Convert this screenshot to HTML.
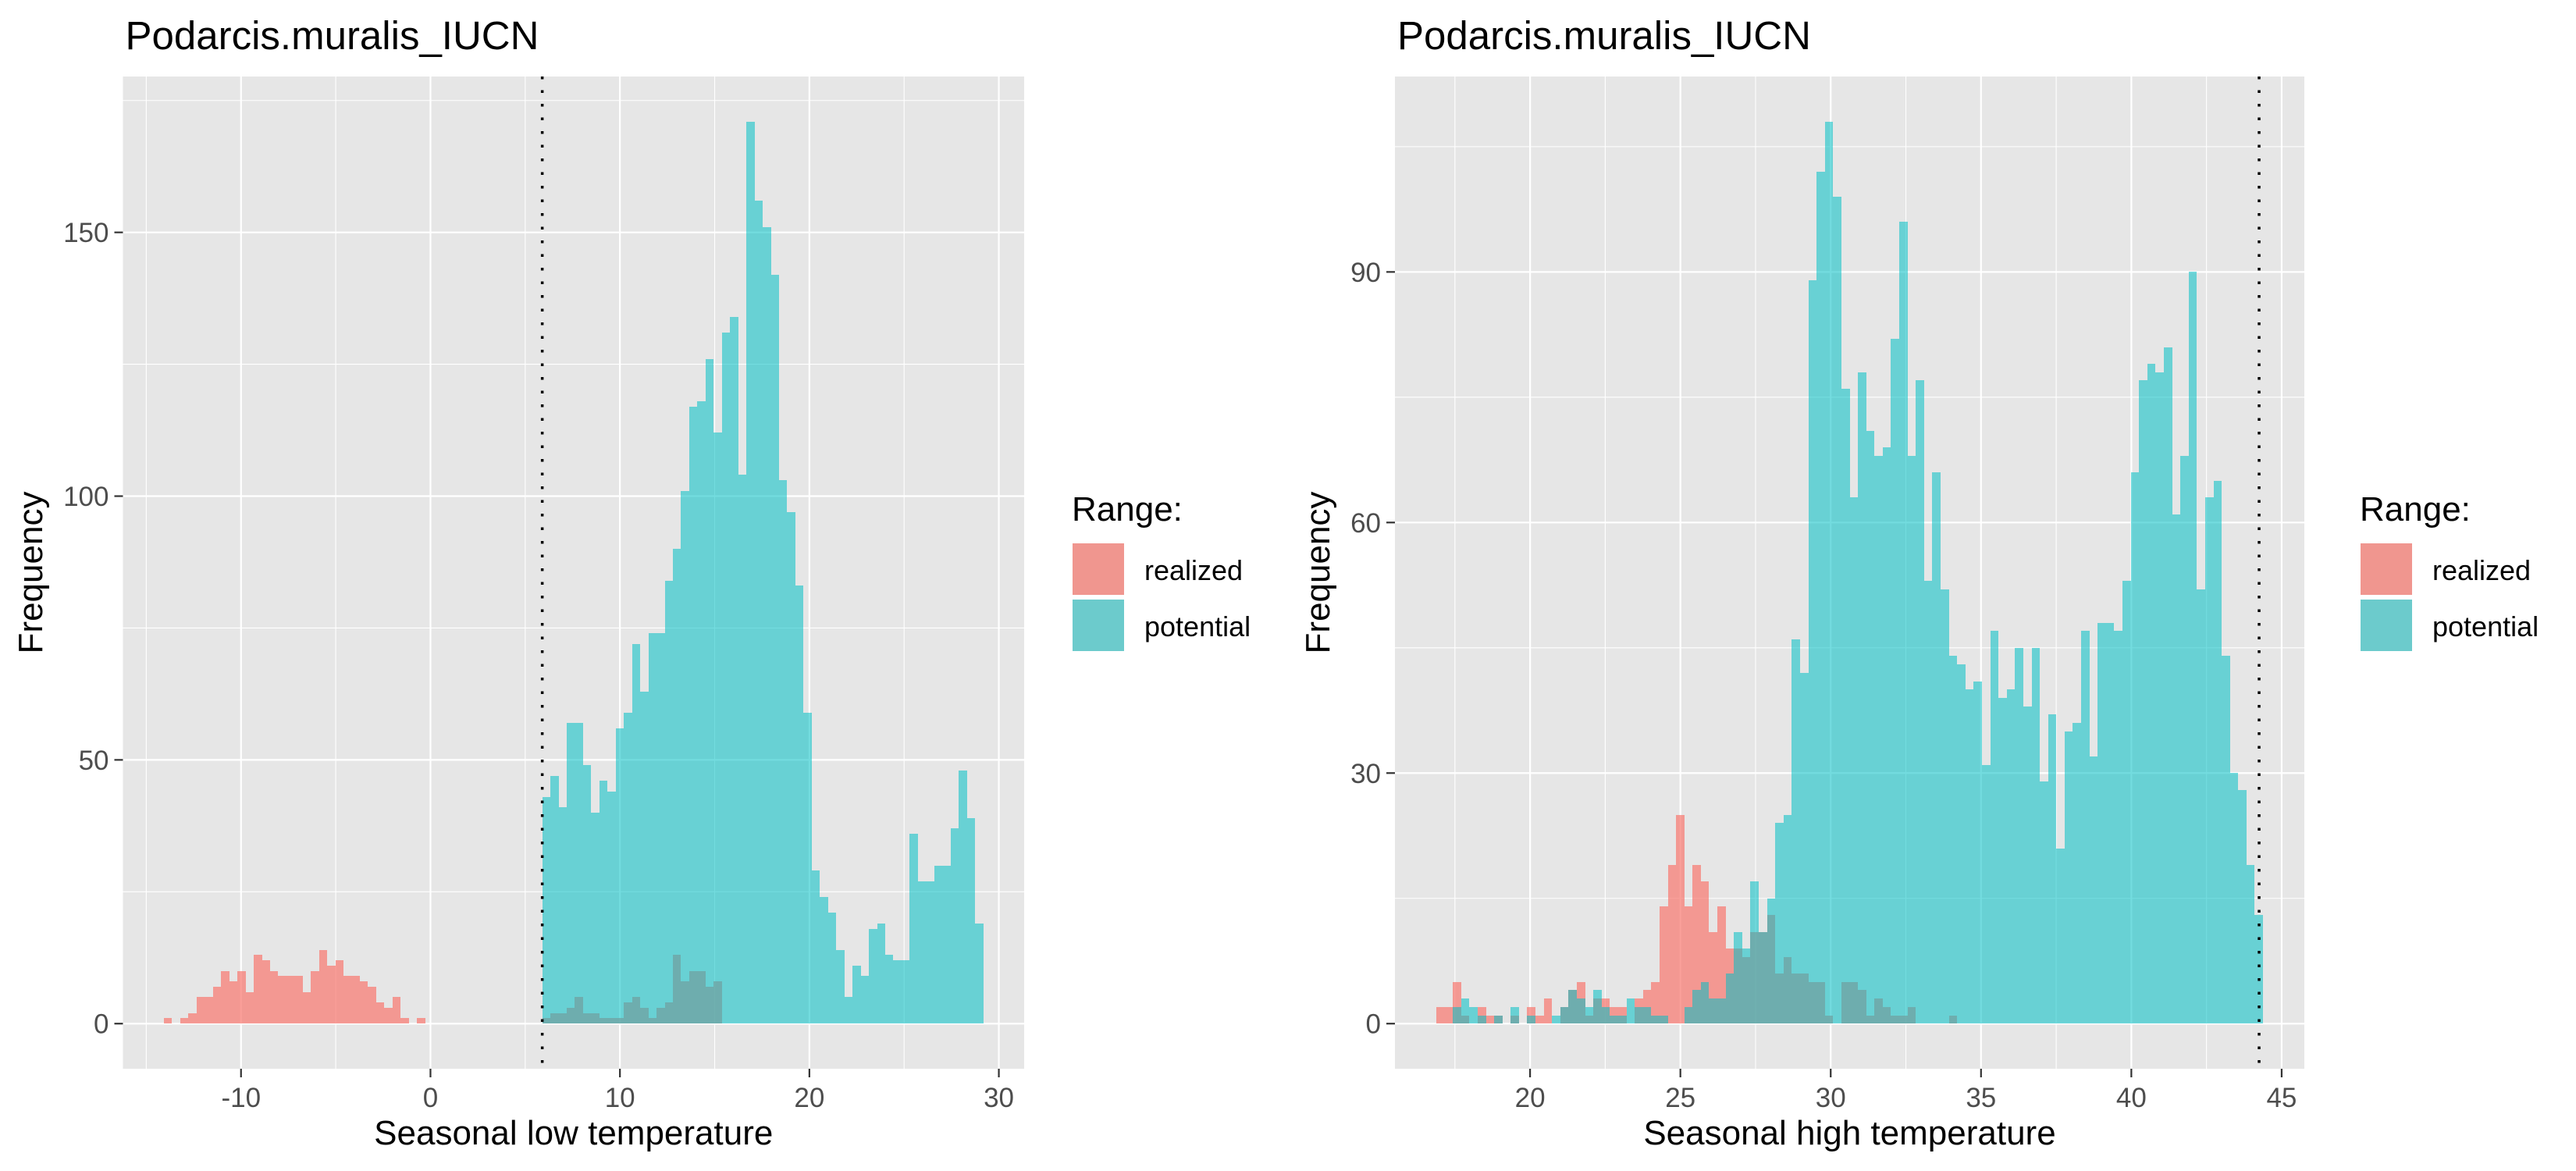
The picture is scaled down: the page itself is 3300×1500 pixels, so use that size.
<!DOCTYPE html>
<html><head><meta charset="utf-8"><style>
html,body{margin:0;padding:0;background:#fff;}
svg{display:block;font-family:"Liberation Sans",Arial,sans-serif;}
</style></head><body>
<svg id="chart" width="3300" height="1500" viewBox="0 0 3300 1500" xmlns="http://www.w3.org/2000/svg">
<rect x="0" y="0" width="3300" height="1500" fill="#ffffff"/>
</svg>
<script>
// ---------- data: left panel (Seasonal low temperature) ----------
const leftBinWidth = 0.431;
const leftRealizedStartA = -14.07;
const leftRealizedA = [1,0,1,2,5,5,7,10,8,10,6,13,12,10,9,9,9,6,10,14,11,12,9,9,8,7,4,3,5,1,0,1];
const leftPotentialStart = 5.9;
const leftPotential = [43,47,41,57,57,49,40,46,44,56,59,72,63,74,74,84,90,101,117,118,126,112,131,134,104,171,156,151,142,103,97,83,59,29,24,21,14,5,11,9,18,19,13,12,12,36,27,27,30,30,37,48,39,19];
const leftRealizedStartB = 5.9;
const leftRealizedB = [1,2,2,3,5,2,2,1,1,1,4,5,3,1,3,4,13,8,10,10,7,8];
const leftVline = 5.9;
const leftXTicks = [-10,0,10,20,30];
const leftXMinor = [-15,-5,5,15,25];
const leftYTicks = [0,50,100,150];
const leftYMinor = [25,75,125,175];

// ---------- data: right panel (Seasonal high temperature) ----------
const rightBinWidth = 0.275;
const rightStart = 16.88;
const rightRealized = [2,2,5,1,0,2,1,1,0,1,0,2,1,3,0,2,4,5,1,3,3,2,2,0,3,4,5,14,19,25,14,19,17,11,14,9,9,8,11,11,13,6,8,6,6,5,5,1,0,5,5,4,1,3,2,1,1,2,0,0,0,0,1,0,0,0,0,0,0,0,0,0,0,0,0,0,0,0,0,0,0,0,0,0,0,0,0,0,0,0,0,0,0,0,0,0,0,0,0,0];
const rightPotential = [0,0,2,3,2,1,0,1,0,2,0,1,0,0,1,2,4,3,2,4,2,1,1,3,2,2,1,1,0,0,2,4,5,3,3,6,11,9,17,11,15,24,25,46,42,89,102,108,99,76,63,78,71,68,69,82,96,68,77,53,66,52,44,43,40,41,31,47,39,40,45,38,45,29,37,21,35,36,47,32,48,48,47,53,66,77,79,78,81,61,68,90,52,63,65,44,30,28,19,13];
const rightVline = 44.25;
const rightXTicks = [20,25,30,35,40,45];
const rightXMinor = [17.5,22.5,27.5,32.5,37.5,42.5];
const rightYTicks = [0,30,60,90];
const rightYMinor = [15,45,75,105];

const NS = "http://www.w3.org/2000/svg";
const svg = document.getElementById('chart');
function mk(tag, attrs, parent){
  const e = document.createElementNS(NS, tag);
  for (const k in attrs) e.setAttribute(k, attrs[k]);
  (parent||svg).appendChild(e);
  return e;
}

function drawPanel(cfg){
  const g = mk('g', {});
  
  
  const L = cfg.left, R = cfg.right, T = 98, B = 1369;
  let xmin = Infinity, xmax = -Infinity, ymax = 0;
  cfg.series.forEach(s => {
    xmin = Math.min(xmin, s.start);
    xmax = Math.max(xmax, s.start + s.values.length * cfg.bw);
    s.values.forEach(v => { ymax = Math.max(ymax, v); });
  });
  const xe = (xmax - xmin) * 0.05, ye = ymax * 0.05;
  const x0 = xmin - xe, x1 = xmax + xe, y0 = -ye, y1 = ymax + ye;
  const xs = v => L + (v - x0) / (x1 - x0) * (R - L);
  const ys = v => B - (v - y0) / (y1 - y0) * (B - T);

  const bg = mk('rect', {x:L, y:T, width:R-L, height:B-T, fill:'#E6E6E6'}, g);
  
  
  const grid = mk('g', {}, g);
  
  
  cfg.yMinor.forEach(v => { if (ys(v) > T) mk('line', {x1:L, x2:R, y1:ys(v), y2:ys(v), stroke:'#fff', 'stroke-width':1.1}, grid); });
  cfg.xMinor.forEach(v => mk('line', {x1:xs(v), x2:xs(v), y1:T, y2:B, stroke:'#fff', 'stroke-width':1.1}, grid));
  cfg.yTicks.forEach(v => mk('line', {x1:L, x2:R, y1:ys(v), y2:ys(v), stroke:'#fff', 'stroke-width':2.2}, grid));
  cfg.xTicks.forEach(v => mk('line', {x1:xs(v), x2:xs(v), y1:T, y2:B, stroke:'#fff', 'stroke-width':2.2}, grid));

  cfg.series.forEach(s => {
    const sg = mk('g', {fill:s.color, 'fill-opacity':s.op, 'shape-rendering':'crispEdges'}, g);
    
    
    s.values.forEach((v, i) => {
      if (v <= 0) return;
      const a = Math.round(xs(s.start + i * cfg.bw)), b = Math.round(xs(s.start + (i + 1) * cfg.bw));
      const top = Math.round(ys(v)), base = Math.round(ys(0));
      const r = mk('rect', {x:a, y:top, width:b - a, height:base - top}, sg);
      
      
    });
  });

  const vl = mk('line', {x1:xs(cfg.vline), x2:xs(cfg.vline), y1:T, y2:B, stroke:'#000', 'stroke-width':3.5, 'stroke-dasharray':'3.5 14'}, g);
  
  

  const ax = mk('g', {fill:'#4D4D4D', 'font-size':35}, g);
  
  
  cfg.xTicks.forEach(v => {
    mk('line', {x1:xs(v), x2:xs(v), y1:B, y2:B+11, stroke:'#333', 'stroke-width':2.2}, ax);
    const t = mk('text', {x:xs(v), y:1418, 'text-anchor':'middle'}, ax);
    
    
    t.textContent = String(v);
  });
  cfg.yTicks.forEach(v => {
    mk('line', {x1:L-11, x2:L, y1:ys(v), y2:ys(v), stroke:'#333', 'stroke-width':2.2}, ax);
    const t = mk('text', {x:L-18, y:ys(v)+12.5, 'text-anchor':'end'}, ax);
    
    
    t.textContent = String(v);
  });

  const title = mk('text', {x:L+3, y:63, 'font-size':51, fill:'#000'}, g);
  
  
  title.textContent = 'Podarcis.muralis_IUCN';

  const xt = mk('text', {x:(L+R)/2, y:1466, 'font-size':44, 'text-anchor':'middle', fill:'#000'}, g);
  
  
  xt.textContent = cfg.xTitle;

  const ytx = cfg.yTitleX, yty = (T+B)/2;
  const yt = mk('text', {x:ytx, y:yty, 'font-size':44, 'text-anchor':'middle', fill:'#000', transform:'rotate(-90 '+ytx+' '+yty+')'}, g);
  
  
  yt.textContent = 'Frequency';

  const lg = mk('g', {}, g);
  
  
  const lx = cfg.legendX;
  const lt = mk('text', {x:lx-1, y:667, 'font-size':44, fill:'#000'}, lg);
  
  
  lt.textContent = 'Range:';
  [['realized','#F0968F',696,743],['potential','#6CCBCC',768,815]].forEach(d => {
    const k = mk('rect', {x:lx, y:d[2], width:66, height:66, fill:d[1]}, lg);
    
    
    const t = mk('text', {x:lx+92, y:d[3], 'font-size':36, fill:'#000'}, lg);
    
    
    t.textContent = d[0];
  });
}

drawPanel({
  name:'left-panel', left:157.5, right:1312, bw:leftBinWidth,
  series:[
    {label:'realized', start:leftRealizedStartA, values:leftRealizedA, color:'#F8766D', op:0.7},
    {label:'realized', start:leftRealizedStartB, values:leftRealizedB, color:'#F8766D', op:0.7},
    {label:'potential', start:leftPotentialStart, values:leftPotential, color:'#00BFC4', op:0.55}
  ],
  vline:leftVline, xTicks:leftXTicks, xMinor:leftXMinor, yTicks:leftYTicks, yMinor:leftYMinor,
  xTitle:'Seasonal low temperature', yTitleX:54, legendX:1374
});
drawPanel({
  name:'right-panel', left:1787, right:2952, bw:rightBinWidth,
  series:[
    {label:'realized', start:rightStart, values:rightRealized, color:'#F8766D', op:0.7},
    {label:'potential', start:rightStart, values:rightPotential, color:'#00BFC4', op:0.55}
  ],
  vline:rightVline, xTicks:rightXTicks, xMinor:rightXMinor, yTicks:rightYTicks, yMinor:rightYMinor,
  xTitle:'Seasonal high temperature', yTitleX:1703, legendX:3024
});
</script>
</body></html>
